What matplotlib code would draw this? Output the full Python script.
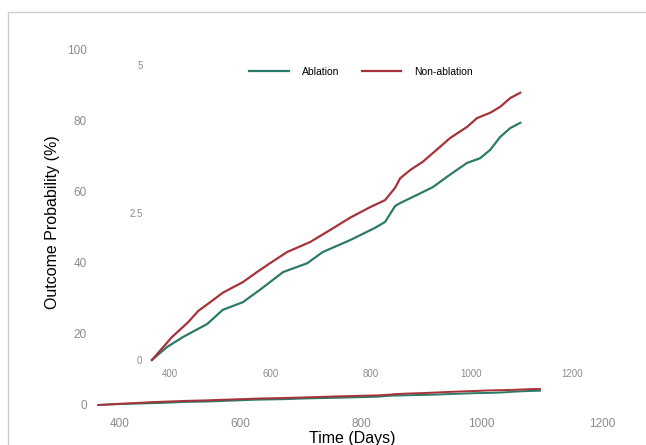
import numpy as np
import matplotlib
matplotlib.use('Agg')
import matplotlib.pyplot as plt
from matplotlib.lines import Line2D

plt.rcParams['font.family'] = ['Liberation Sans', 'DejaVu Sans']

# Cumulative outcome probability (%)
days_ablation = [364, 394, 426, 474, 505, 545, 579, 625, 673, 704, 758, 808, 828,
                 848, 858, 892, 923, 957, 991, 1017, 1037, 1057, 1077, 1097]
prob_ablation = [0.0, 0.22, 0.39, 0.61, 0.85, 0.98, 1.19, 1.49, 1.64, 1.83, 2.03, 2.24, 2.34,
                 2.61, 2.66, 2.80, 2.93, 3.14, 3.34, 3.42, 3.56, 3.78, 3.93, 4.02]

days_non = [364, 404, 436, 456, 480, 505, 545, 573, 599, 633, 679, 718, 758, 798,
            828, 848, 858, 878, 903, 937, 957, 991, 1011, 1037, 1057, 1077, 1097]
prob_non = [0.0, 0.39, 0.64, 0.83, 0.98, 1.14, 1.32, 1.49, 1.64, 1.83, 2.0, 2.2, 2.41, 2.59,
            2.71, 2.92, 3.08, 3.22, 3.36, 3.61, 3.76, 3.95, 4.10, 4.19, 4.29, 4.44, 4.53]

x_ticks = [400, 600, 800, 1000, 1200]
main_yticks = [0, 20, 40, 60, 80, 100]
inset_yticks = [0, 2.5, 5]
inset_ylabels = ['0', '2.5', '5']

green = '#2c7a68'
red = '#a8323a'
tick_grey = '#8c8c8c'

W, H = 646, 445
fig = plt.figure(figsize=(W / 100, H / 100), dpi=100)


def px_rect(l, r, b, t):
    return [l / W, (H - b) / H, (r - l) / W, (b - t) / H]


# main axes
ax = fig.add_axes(px_rect(95, 609, 410, 40))
ax.plot(days_ablation, prob_ablation, color=green, lw=1.4)
ax.plot(days_non, prob_non, color=red, lw=1.4)
ax.set_xlim(358.5, 1211.6)
ax.set_ylim(-1.41, 102.8)
ax.set_xticks(x_ticks)
ax.set_yticks(main_yticks)
ax.tick_params(length=0, labelsize=8.5, labelcolor=tick_grey, pad=6)
for s in ax.spines.values():
    s.set_visible(False)
ax.patch.set_alpha(0)

# inset zoom axes
ins = fig.add_axes(px_rect(148, 600, 363, 60))
ins.plot(days_ablation, prob_ablation, color=green, lw=1.6, label='Ablation')
ins.plot(days_non, prob_non, color=red, lw=1.6, label='Non-ablation')
ins.set_xlim(356.2, 1255.7)
ins.set_ylim(-0.051, 5.085)
ins.set_xticks(x_ticks)
ins.set_yticks(inset_yticks)
ins.set_yticklabels(inset_ylabels)
ins.tick_params(length=0, labelsize=7, labelcolor=tick_grey, pad=4)
for s in ins.spines.values():
    s.set_visible(False)
ins.patch.set_alpha(0)
leg = ins.legend(loc='center', bbox_to_anchor=(361 / W, (H - 72) / H),
                 bbox_transform=fig.transFigure, ncol=2, frameon=False,
                 fontsize=7.5, handlelength=3.8, columnspacing=2.2, handletextpad=1.2)

fig.text(352 / W, (H - 438) / H, 'Time (Days)', ha='center', va='center', fontsize=11.5)
fig.text(53 / W, (H - 222) / H, 'Outcome Probability (%)', ha='center', va='center',
         rotation=90, fontsize=11.5)

# light frame of the screenshot
fig.add_artist(Line2D([8 / W, 8 / W, 1], [0, (H - 12) / H, (H - 12) / H],
                      transform=fig.transFigure, color='#cccccc', lw=1))

fig.savefig('out.png', dpi=100)
